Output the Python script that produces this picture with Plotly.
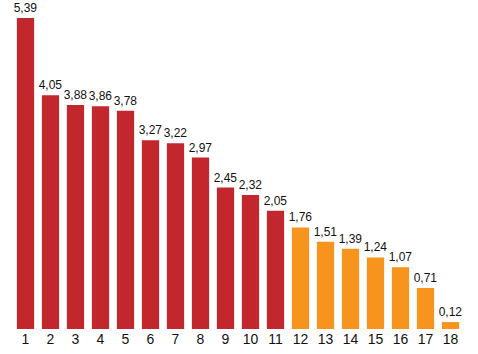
import plotly.graph_objects as go

categories = [str(i) for i in range(1, 19)]
values = [5.39, 4.05, 3.88, 3.86, 3.78, 3.27, 3.22, 2.97, 2.45, 2.32, 2.05,
          1.76, 1.51, 1.39, 1.24, 1.07, 0.71, 0.12]
red = "#C1272D"
orange = "#F7941D"
colors = [red] * 11 + [orange] * 7
labels = [f"{v:.2f}".replace(".", ",") for v in values]

FONT = "Liberation Sans Narrow, Arial Narrow, Liberation Sans, Arial, sans-serif"

fig = go.Figure(go.Bar(
    x=categories, y=values, marker_color=colors, marker_line_width=0,
    text=labels, textposition="outside", cliponaxis=False, constraintext="none",
    textfont=dict(family=FONT, size=12, color="#111"),
))
fig.update_layout(
    width=478, height=354,
    margin=dict(l=12.5, r=14.5, t=0, b=25),
    paper_bgcolor="white", plot_bgcolor="white",
    bargap=0.31, showlegend=False,
)
fig.update_xaxes(showgrid=False, showline=False, zeroline=False, ticks="",
                 tickfont=dict(family=FONT, size=14, color="#111"))
fig.update_yaxes(range=[0, 5.70], visible=False, showgrid=False, zeroline=False)
fig.write_html("out.html")
